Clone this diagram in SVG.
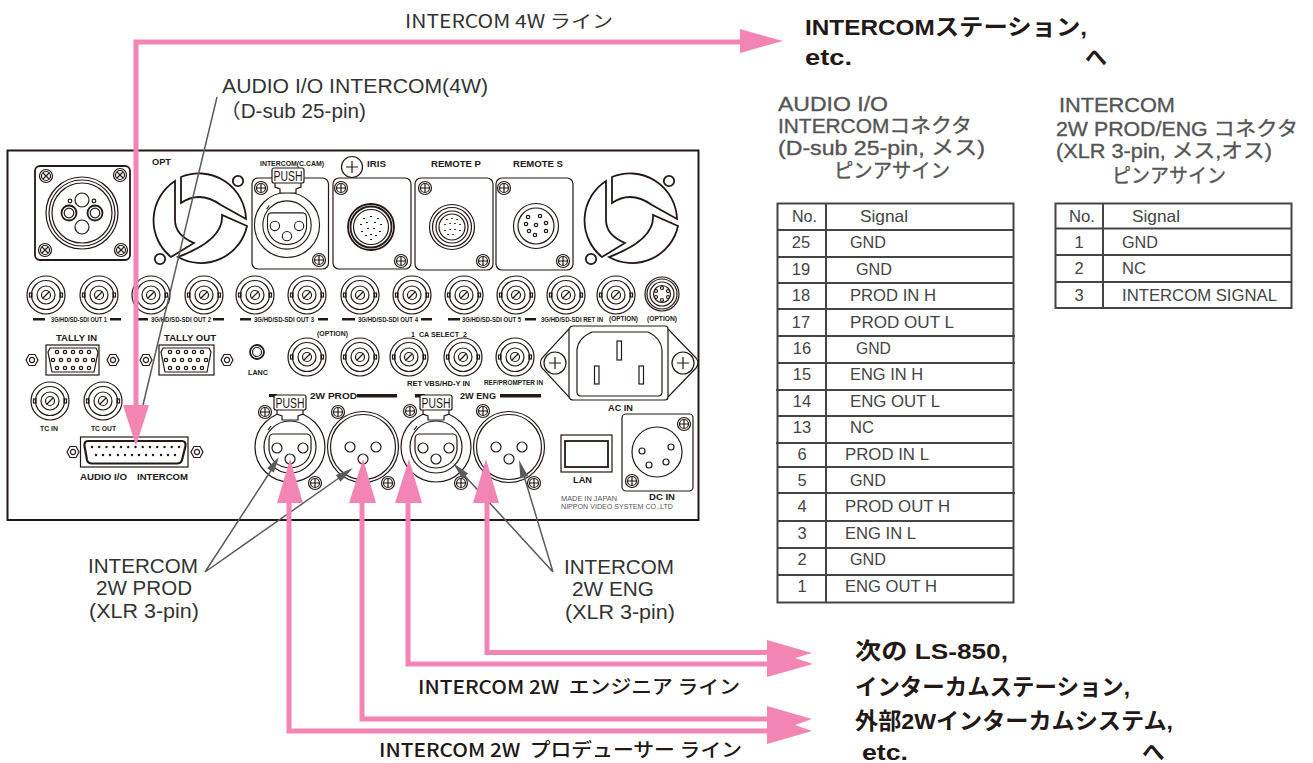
<svg xmlns="http://www.w3.org/2000/svg" width="1313" height="763" viewBox="0 0 1313 763">
<style>
.l{fill:none;stroke:#231815;stroke-width:1.2}
.t{stroke:#231815;stroke-width:1.8;fill:none}
.w{fill:#fff;stroke:#231815;stroke-width:1.2}
.k{fill:#231815;stroke:none}
.tiny{font-family:"Liberation Sans",Arial,sans-serif;font-weight:700;fill:#231815}
.j{font-family:"Liberation Sans","Noto Sans CJK JP",sans-serif;fill:#333}
.jr{font-family:"Noto Sans CJK JP","Noto Sans",sans-serif;fill:#333;font-weight:400}
.jb{font-family:"Liberation Sans","Noto Sans CJK JP",sans-serif;fill:#231815;font-weight:700}
.jm{font-family:"Noto Sans CJK JP","Noto Sans",sans-serif;fill:#231815;font-weight:500}
.h{font-family:"Liberation Sans","Noto Sans CJK JP",sans-serif;fill:#555;stroke:#555;stroke-width:.35px;font-weight:400;font-size:20px}
.c{font-family:"Liberation Sans","Noto Sans CJK JP",sans-serif;fill:#444;font-size:16.500px}
.m{text-anchor:middle}
.pk{fill:none;stroke:#F385B5;stroke-width:5}
.pa{fill:#F385B5;stroke:none}
.ld{fill:none;stroke:#5a5a5a;stroke-width:1.5}
.ah{fill:#5a5a5a}
.tb{fill:none;stroke:#444;stroke-width:2}
</style>
<defs>
<g id="bnc">
<circle r="19" class="l"/><circle r="14.500" class="l"/><circle r="9" class="l"/><circle r="4.500" class="l"/>
<path d="M-3.500 3.500L3.500-3.500" class="l"/>
<rect x="-16.500" y="-2" width="2.500" height="4" class="l"/><rect x="14" y="-2" width="2.500" height="4" class="l"/>
</g>
<g id="screw"><circle r="6.500" class="w"/><circle r="4.500" class="l"/><path d="M-4 0H4M0-4V4" class="l"/></g>
<g id="xscrew"><circle r="6.500" class="w"/><circle r="4.500" class="l"/><path d="M-3-3L3 3M-3 3L3-3" class="l"/></g>
<g id="hex"><path d="M-6 0L-3-5.500H3L6 0L3 5.500H-3Z" class="l"/><circle r="2.600" class="l"/></g>
<g id="fan">
<path d="M175 181A47 47 0 0 0 171 257L194 243Q175 235 175 220Z" class="t"/>
<path d="M181 177A47 47 0 0 1 246 219L221 205Q200 190 181 203Z" class="t"/>
<path d="M247 226L222 215Q224 240 178 257A47 47 0 0 0 247 226Z" class="t"/>
<circle cx="238" cy="181" r="5.200" class="t"/><circle cx="160" cy="259" r="5.200" class="t"/>
</g>
<g id="push"><path d="M-13 6V12L-8 14V18H8V14L13 12V6" class="w"/><rect x="-16" y="-7" width="32" height="15" rx="2" class="w"/><text y="6" class="m" font-family="Liberation Sans,sans-serif" font-size="14" fill="#231815" textLength="29" lengthAdjust="spacingAndGlyphs">PUSH</text></g>
<g id="xf"><circle r="35" class="w" stroke-width="1.600"/><circle r="26" class="l"/><path d="M-21-7Q-21-13-17-13H17Q21-13 21-7V3Q18 20 0 21Q-18 20-21 3Z" class="l" stroke-width="1.600"/><circle cx="-13" cy="1" r="5" class="l"/><circle cx="13" cy="1" r="5" class="l"/><circle cy="12" r="5" class="l"/><path d="M-22-17L-19-21" class="l"/></g>
<g id="xm"><circle r="35.500" class="w" stroke-width="2.400"/><circle r="32.500" class="l"/><circle cx="-13" r="5" class="l"/><circle cx="13" r="5" class="l"/><circle cy="12" r="5" class="l"/></g>
<g id="vr"><circle cx="-16" cy="-8" r="1.700" class="l"/><circle cx="-8" cy="-8" r="1.700" class="l"/><circle cy="-8" r="1.700" class="l"/><circle cx="8" cy="-8" r="1.700" class="l"/><circle cx="16" cy="-8" r="1.700" class="l"/></g>
<g id="vga"><path d="M-23-12H23L25-8L21 12H-21L-25-8Z" class="l"/>
<use href="#vr" y="0"/><use href="#vr" y="16"/><use href="#vr" x="-4" y="8"/><circle cx="20" cy="0" r="1.700" class="l"/></g>
</defs>

<g id="panel">
<rect x="7.500" y="150.500" width="691" height="369.500" fill="#fff" stroke="#231815" stroke-width="2"/>
</g>

<g id="opt-connector">
<rect x="35" y="166" width="95" height="94" rx="5" class="t"/>
<circle cx="82" cy="213" r="36" class="l"/><circle cx="82" cy="213" r="33" class="l"/><circle cx="82" cy="213" r="30" class="l"/>
<circle cx="82" cy="200" r="7" class="l"/><circle cx="82" cy="227" r="7" class="l"/>
<circle cx="69" cy="213" r="7.500" class="t"/><circle cx="95" cy="213" r="7.500" class="t"/><circle cx="69" cy="213" r="4.800" class="l"/><circle cx="95" cy="213" r="4.800" class="l"/>
<circle cx="70" cy="201" r="1.800" class="l"/><circle cx="94" cy="201" r="1.800" class="l"/>
<use href="#xscrew" x="46" y="176"/><use href="#xscrew" x="120" y="175"/><use href="#xscrew" x="45" y="250"/><use href="#xscrew" x="121" y="250"/>
<text x="152" y="165" class="tiny" font-size="9" textLength="19" lengthAdjust="spacingAndGlyphs">OPT</text>
</g>
<g id="fan-left"><use href="#fan"/></g>
<g id="fan-right"><use href="#fan" x="431"/></g>

<g id="intercom-ccam">
<text x="260" y="166" class="tiny" font-size="8" textLength="64" lengthAdjust="spacingAndGlyphs">INTERCOM(C.CAM)</text>
<rect x="252" y="178" width="76.500" height="91" rx="6" class="l" stroke-width="1.600"/>
<use href="#xf" transform="translate(287 225) scale(.93)"/><use href="#push" x="288" y="175"/>
<use href="#screw" x="261" y="188"/><use href="#screw" x="319" y="260"/>
</g>
<g id="iris">
<circle cx="352" cy="167" r="10.500" class="l" stroke-width="1.600"/><path d="M346 167H358M352 161V173" class="l"/>
<text x="367" y="167" class="tiny" font-size="9" textLength="19" lengthAdjust="spacingAndGlyphs">IRIS</text>
<rect x="333" y="178" width="78" height="91" rx="6" class="l" stroke-width="1.600"/>
<circle cx="371" cy="227" r="23" class="t"/><circle cx="371" cy="227" r="20.500" class="t"/><circle cx="371" cy="227" r="17.500" class="l"/>
<path d="M371 216v1M364 218v1M378 218v1M361 224v1M367 222v1M375 222v1M381 224v1M362 231v1M368 228v1M374 228v1M380 231v1M366 235v1M371 234v1M376 235v1M371 239v1" stroke="#231815" stroke-width="2" fill="none"/>
<use href="#screw" x="341" y="188"/><use href="#screw" x="401" y="261"/>
</g>
<g id="remote-p">
<text x="431" y="167" class="tiny" font-size="9" textLength="50" lengthAdjust="spacingAndGlyphs">REMOTE P</text>
<rect x="415" y="178" width="78" height="92" rx="6" class="l" stroke-width="1.600"/>
<circle cx="452" cy="227" r="22.500" class="l"/><circle cx="452" cy="227" r="19.500" class="l"/><circle cx="452" cy="227" r="16" class="l"/><circle cx="452" cy="227" r="13" class="l"/>
<path d="M447 219v1M452 218v1M457 219v1M445 224v1M450 223v1M455 223v1M460 224v1M445 230v1M450 229v1M455 229v1M460 230v1M448 234v1M453 234v1" stroke="#231815" stroke-width="1.600" fill="none"/>
<use href="#screw" x="425" y="188"/><use href="#screw" x="483" y="261"/>
</g>
<g id="remote-s">
<text x="513" y="167" class="tiny" font-size="9" textLength="50" lengthAdjust="spacingAndGlyphs">REMOTE S</text>
<rect x="496" y="178" width="77" height="92" rx="6" class="l" stroke-width="1.600"/>
<circle cx="536" cy="226" r="22.500" class="l" stroke-width="1.600"/><circle cx="536" cy="226" r="18" class="l"/>
<g class="l"><circle cx="528" cy="217" r="1.700"/><circle cx="540" cy="216" r="1.700"/><circle cx="529" cy="231" r="1.700"/><circle cx="536" cy="225" r="1.700"/><circle cx="526" cy="224" r="1.700"/><circle cx="546" cy="223" r="1.700"/><circle cx="546" cy="231" r="1.700"/><circle cx="535" cy="235" r="1.700"/></g>
<use href="#screw" x="504" y="188"/><use href="#screw" x="563" y="261"/>
</g>

<g id="sdi-row">
<use href="#bnc" x="46" y="295"/><use href="#bnc" x="99" y="295"/><use href="#bnc" x="151" y="295"/><use href="#bnc" x="204" y="295"/><use href="#bnc" x="255" y="295"/><use href="#bnc" x="307" y="295"/><use href="#bnc" x="360" y="295"/><use href="#bnc" x="412" y="295"/><use href="#bnc" x="464" y="295"/><use href="#bnc" x="516" y="295"/><use href="#bnc" x="566" y="295"/><use href="#bnc" x="616" y="295"/>
<circle cx="662" cy="294" r="17" class="l"/><circle cx="662" cy="294" r="15" class="l"/><circle cx="662" cy="294" r="12" class="l"/><circle cx="662" cy="294" r="8.500" class="l"/>
<circle cx="662" cy="288" r="1.500" class="l"/><circle cx="656" cy="291" r="1.500" class="l"/><circle cx="668" cy="291" r="1.500" class="l"/><circle cx="656" cy="297" r="1.500" class="l"/><circle cx="668" cy="297" r="1.500" class="l"/><circle cx="662" cy="300" r="1.500" class="l"/>
<g class="k"><rect x="33" y="318" width="12" height="2.500"/><rect x="110" y="318" width="11" height="2.500"/><rect x="138" y="318" width="10" height="2.500"/><rect x="213" y="318" width="11" height="2.500"/><rect x="240" y="318" width="11" height="2.500"/><rect x="318" y="318" width="10" height="2.500"/><rect x="342" y="318" width="13" height="2.500"/><rect x="421" y="318" width="11" height="2.500"/><rect x="448" y="318" width="12" height="2.500"/><rect x="525" y="318" width="11" height="2.500"/></g>
<g class="tiny" font-size="7"><text x="51" y="322" textLength="56" lengthAdjust="spacingAndGlyphs">3G/HD/SD-SDI OUT 1</text><text x="151" y="322" textLength="60" lengthAdjust="spacingAndGlyphs">3G/HD/SD-SDI OUT 2</text><text x="254" y="322" textLength="60" lengthAdjust="spacingAndGlyphs">3G/HD/SD-SDI OUT 3</text><text x="358" y="322" textLength="60" lengthAdjust="spacingAndGlyphs">3G/HD/SD-SDI OUT 4</text><text x="462" y="322" textLength="59" lengthAdjust="spacingAndGlyphs">3G/HD/SD-SDI OUT 5</text><text x="541" y="322" textLength="62" lengthAdjust="spacingAndGlyphs">3G/HD/SD-SDI RET IN</text><text x="609" y="321" textLength="29" lengthAdjust="spacingAndGlyphs">(OPTION)</text><text x="647" y="321" textLength="30" lengthAdjust="spacingAndGlyphs">(OPTION)</text></g>
</g>

<g id="tally-in">
<text x="56" y="341" class="tiny" font-size="8.500" textLength="41" lengthAdjust="spacingAndGlyphs">TALLY IN</text>
<rect x="46" y="345" width="53" height="30" class="l"/><use href="#vga" x="73" y="360"/>
<use href="#hex" x="32" y="360"/><use href="#hex" x="113" y="360"/>
</g>
<g id="tally-out">
<text x="164" y="341" class="tiny" font-size="8.500" textLength="52" lengthAdjust="spacingAndGlyphs">TALLY OUT</text>
<rect x="159" y="345" width="55" height="30" class="l"/><use href="#vga" x="186" y="360"/>
<use href="#hex" x="146" y="360"/><use href="#hex" x="227" y="360"/>
</g>
<g id="lanc">
<circle cx="257" cy="352" r="7" class="t"/><circle cx="257" cy="352" r="4.500" class="l"/>
<text x="248" y="375" class="tiny" font-size="7.500" textLength="20" lengthAdjust="spacingAndGlyphs">LANC</text>
</g>
<g id="middle-bnc">
<text x="317" y="336" class="tiny" font-size="7.500" textLength="31" lengthAdjust="spacingAndGlyphs">(OPTION)</text>
<use href="#bnc" x="307" y="357"/><use href="#bnc" x="360" y="357"/><use href="#bnc" x="409" y="357"/><use href="#bnc" x="463" y="357"/><use href="#bnc" x="515" y="357"/>
<text x="411" y="337" class="tiny" font-size="8" textLength="56" lengthAdjust="spacingAndGlyphs" xml:space="preserve">1  CA SELECT  2</text>
<text x="407" y="386" class="tiny" font-size="8" textLength="63" lengthAdjust="spacingAndGlyphs">RET VBS/HD-Y IN</text>
<text x="484" y="385" class="tiny" font-size="8" textLength="59" lengthAdjust="spacingAndGlyphs">REF/PROMPTER IN</text>
</g>
<g id="ac-in">
<path d="M569 329Q570 326 573 326H665Q668 326 668 329L696 358Q700 363 696 368L668 397Q668 400 665 400H573Q570 400 569 397L542 368Q539 363 542 358Z" class="l" stroke-width="1.600"/>
<path d="M569 329V397M668 329V397" class="l"/>
<path d="M577 392V350Q578 338 592 332H648Q661 338 662 350V392Q662 396 658 396H581Q577 396 577 392Z" class="l" stroke-width="1.600"/>
<circle cx="555" cy="363" r="11" class="l" stroke-width="1.600"/><path d="M549 363H561M555 357V369" class="l"/>
<circle cx="683" cy="363" r="11" class="l" stroke-width="1.600"/><path d="M677 363H689M683 357V369" class="l"/>
<rect x="617" y="341" width="4.500" height="19" class="l"/><rect x="594.500" y="366" width="4.500" height="18" class="l"/><rect x="639" y="366" width="4.500" height="18" class="l"/>
<text x="608" y="411" class="tiny" font-size="8.500" textLength="25" lengthAdjust="spacingAndGlyphs">AC IN</text>
</g>
<g id="tc">
<use href="#bnc" x="50" y="401"/><use href="#bnc" x="103" y="401"/>
<text x="40" y="431" class="tiny" font-size="7.500" textLength="18" lengthAdjust="spacingAndGlyphs">TC IN</text>
<text x="91" y="431" class="tiny" font-size="7.500" textLength="25" lengthAdjust="spacingAndGlyphs">TC OUT</text>
</g>
<g id="audio-io">
<rect x="80.500" y="437" width="107.500" height="30" class="l"/>
<path d="M88 441H182Q186 441 185.500 446L182 460Q181 463.500 177 463.500H92Q88 463.500 87 460L84.500 446Q84 441 88 441Z" fill="none" stroke="#231815" stroke-width="2.200"/>
<g fill="none" stroke="#231815" stroke-width="2.400" stroke-linecap="round">
<path d="M92 447h.01M99.200 447h.01M106.500 447h.01M113.700 447h.01M121 447h.01M128.200 447h.01M135.500 447h.01M142.700 447h.01M150 447h.01M157.200 447h.01M164.500 447h.01M171.700 447h.01M179 447h.01"/>
<path d="M96 455h.01M103 455h.01M110 455h.01M118 455h.01M125 455h.01M132 455h.01M139 455h.01M146 455h.01M153 455h.01M161 455h.01M168 455h.01M175 455h.01"/>
</g>
<use href="#hex" x="73" y="452"/><use href="#hex" x="197" y="452"/>
<text x="80" y="480" class="tiny" font-size="8.500" textLength="47" lengthAdjust="spacingAndGlyphs">AUDIO I/O</text>
<text x="137" y="480" class="tiny" font-size="8.500" textLength="51" lengthAdjust="spacingAndGlyphs">INTERCOM</text>
</g>
<g id="prod-connectors">
<rect x="269" y="394" width="8" height="3" class="k"/><rect x="357" y="394" width="40" height="3.500" class="k"/>
<text x="310" y="399" class="tiny" font-size="8.500" textLength="47" lengthAdjust="spacingAndGlyphs">2W PROD</text>
<use href="#screw" x="265" y="412"/><use href="#xf" x="290" y="447"/><use href="#push" x="290" y="402"/><use href="#screw" x="315" y="483"/>
<use href="#screw" x="338" y="412"/><use href="#xm" x="363" y="447"/><use href="#screw" x="388" y="483"/>
</g>
<g id="eng-connectors">
<rect x="415" y="394" width="10" height="3.500" class="k"/><rect x="500" y="394" width="41" height="3.500" class="k"/>
<text x="460" y="399" class="tiny" font-size="8.500" textLength="36" lengthAdjust="spacingAndGlyphs">2W ENG</text>
<use href="#screw" x="410" y="411"/><use href="#xf" x="436" y="447"/><use href="#push" x="436" y="402"/><use href="#screw" x="461" y="483"/>
<use href="#screw" x="483" y="411"/><use href="#xm" x="509" y="447"/><use href="#screw" x="534" y="483"/>
</g>
<g id="lan">
<rect x="561" y="435" width="51" height="37" class="l"/><rect x="565" y="441" width="43" height="26" class="t"/>
<text x="573" y="483" class="tiny" font-size="8.500" textLength="19" lengthAdjust="spacingAndGlyphs">LAN</text>
</g>
<g id="dc-in">
<rect x="622" y="414" width="71" height="77" rx="4" class="l" stroke-width="1.600"/>
<circle cx="657" cy="452" r="25" class="l" stroke-width="1.600"/>
<circle cx="642" cy="451" r="3" class="l"/><circle cx="671" cy="447" r="3" class="l"/><circle cx="649" cy="465" r="3" class="l"/><circle cx="666" cy="462" r="3" class="l"/>
<use href="#screw" x="684" y="424"/><use href="#screw" x="632" y="481"/>
<text x="649" y="500" class="tiny" font-size="8.500" textLength="26" lengthAdjust="spacingAndGlyphs">DC IN</text>
</g>
<g id="maker" font-family="Liberation Sans,sans-serif" font-size="7" fill="#555">
<text x="561" y="500.500" textLength="56" lengthAdjust="spacingAndGlyphs">MADE IN JAPAN</text>
<text x="561" y="508.500" textLength="112" lengthAdjust="spacingAndGlyphs">NIPPON VIDEO SYSTEM CO.,LTD</text>
</g>

<g id="connectors">
<path d="M217 97L143 405" class="ld"/>
<path d="M205 572L272 469M205 572L339 478M553 572L464 475M553 572L524 476" class="ld"/>
<path d="M279 457L273.800 472.600L267 468.200ZM353 468L340.500 481.700L335.900 475.100ZM453 463L468.100 473.600L462.300 479ZM519 460L528 476L520.400 478.400Z" class="ah"/>
<path d="M743 42H136V410" class="pk"/>
<path d="M783 41L740 29V53Z" class="pa"/>
<path d="M123 405H149L136 446Z" class="pa"/>
<path d="M289 500V731H770" class="pk"/>
<path d="M362 500V719H770" class="pk"/>
<path d="M408 500V664H770" class="pk"/>
<path d="M487 500V652.500H770" class="pk"/>
<path d="M277 503H303L290 459ZM349 503H376L363 459ZM395 503H422L409 459ZM473 503H499L486 459Z" class="pa"/>
<path d="M767 640L812 653L795 658L813 664L767 677ZM767 706L812 719L795 725L812 731L767 744Z" class="pa"/>
</g>

<g id="top-labels">
<text x="405" y="28" class="jr" font-size="18" textLength="208" lengthAdjust="spacingAndGlyphs">INTERCOM 4W ライン</text>
<text x="805" y="35" class="jb" font-size="22.500" textLength="282" lengthAdjust="spacingAndGlyphs">INTERCOMステーション,</text>
<text x="805" y="65" class="jb" font-size="22.500" textLength="47" lengthAdjust="spacingAndGlyphs">etc.</text>
<text x="1085" y="65" class="jb" font-size="22">へ</text>
<text x="222" y="93" class="j" font-size="20" textLength="266" lengthAdjust="spacingAndGlyphs">AUDIO I/O INTERCOM(4W)</text>
<text x="220" y="118" class="j" font-size="20" textLength="146" lengthAdjust="spacingAndGlyphs">（D-sub 25-pin)</text>
</g>
<g id="label-prod" class="j" font-size="20">
<text x="88" y="573" textLength="110" lengthAdjust="spacingAndGlyphs">INTERCOM</text><text x="96" y="595" textLength="96" lengthAdjust="spacingAndGlyphs">2W PROD</text><text x="89" y="618" textLength="110" lengthAdjust="spacingAndGlyphs">(XLR 3-pin)</text>
</g>
<g id="label-eng" class="j" font-size="20">
<text x="564" y="574" textLength="110" lengthAdjust="spacingAndGlyphs">INTERCOM</text><text x="572" y="596" textLength="82" lengthAdjust="spacingAndGlyphs">2W ENG</text><text x="565" y="619" textLength="110" lengthAdjust="spacingAndGlyphs">(XLR 3-pin)</text>
</g>
<g id="line-labels" class="jm" font-size="19">
<text x="418" y="694" textLength="322" lengthAdjust="spacingAndGlyphs" xml:space="preserve">INTERCOM 2W  エンジニア ライン</text>
<text x="379" y="757" textLength="363" lengthAdjust="spacingAndGlyphs" xml:space="preserve">INTERCOM 2W  プロデューサー ライン</text>
</g>
<g id="dest-labels" class="jb" font-size="22.500">
<text x="855" y="659" textLength="153" lengthAdjust="spacingAndGlyphs">次の LS-850,</text>
<text x="855" y="695" textLength="275" lengthAdjust="spacingAndGlyphs">インターカムステーション,</text>
<text x="855" y="729" textLength="318" lengthAdjust="spacingAndGlyphs">外部2Wインターカムシステム,</text>
<text x="862" y="760" textLength="46" lengthAdjust="spacingAndGlyphs">etc.</text>
<text x="1142" y="760">へ</text>
</g>

<g id="table-audio">
<text x="778" y="111" class="h" textLength="110" lengthAdjust="spacingAndGlyphs">AUDIO I/O</text>
<text x="778" y="133" class="h" textLength="194" lengthAdjust="spacingAndGlyphs">INTERCOMコネクタ</text>
<text x="778" y="155" class="h" textLength="207" lengthAdjust="spacingAndGlyphs">(D-sub 25-pin, メス)</text>
<text x="834" y="178" class="h" textLength="116" lengthAdjust="spacingAndGlyphs">ピンアサイン</text>
<path class="tb" d="M777.500 203.500H1013.500V602.500H777.500ZM826 203.500V602.500M777 230H1013M777 257H1013M777 283H1013M777 309H1013M777 336H1015M777 363H1015M776 390H1012M777 416H1013M776 443H1012M777 467H1013M777 493H1015M777 521H1013M777 548H1013M777 575H1013"/>
<g class="c">
<text x="792" y="222" textLength="25" lengthAdjust="spacingAndGlyphs">No.</text><text x="860" y="222" textLength="48" lengthAdjust="spacingAndGlyphs">Signal</text>
<g class="m"><text x="801" y="248">25</text><text x="801" y="275">19</text><text x="801" y="301">18</text><text x="801" y="328">17</text><text x="802" y="354">16</text><text x="802" y="380">15</text><text x="802" y="407">14</text><text x="802" y="433">13</text><text x="802" y="460">6</text><text x="802" y="486">5</text><text x="802" y="512">4</text><text x="802" y="539">3</text><text x="802" y="565">2</text><text x="802" y="592">1</text></g>
<text x="850" y="248" textLength="36" lengthAdjust="spacingAndGlyphs">GND</text><text x="856" y="275" textLength="36" lengthAdjust="spacingAndGlyphs">GND</text><text x="850" y="301" textLength="86" lengthAdjust="spacingAndGlyphs">PROD IN H</text><text x="850" y="328" textLength="104" lengthAdjust="spacingAndGlyphs">PROD OUT L</text><text x="856" y="354" textLength="35" lengthAdjust="spacingAndGlyphs">GND</text><text x="850" y="380" textLength="73" lengthAdjust="spacingAndGlyphs">ENG IN H</text><text x="850" y="407" textLength="90" lengthAdjust="spacingAndGlyphs">ENG OUT L</text><text x="850" y="433" textLength="24" lengthAdjust="spacingAndGlyphs">NC</text><text x="845" y="460" textLength="84" lengthAdjust="spacingAndGlyphs">PROD IN L</text><text x="850" y="486" textLength="36" lengthAdjust="spacingAndGlyphs">GND</text><text x="845" y="512" textLength="105" lengthAdjust="spacingAndGlyphs">PROD OUT H</text><text x="845" y="539" textLength="71" lengthAdjust="spacingAndGlyphs">ENG IN L</text><text x="850" y="565" textLength="36" lengthAdjust="spacingAndGlyphs">GND</text><text x="845" y="592" textLength="92" lengthAdjust="spacingAndGlyphs">ENG OUT H</text>
</g>
</g>
<g id="table-intercom">
<text x="1059" y="112" class="h" textLength="116" lengthAdjust="spacingAndGlyphs">INTERCOM</text>
<text x="1056" y="136" class="h" textLength="242" lengthAdjust="spacingAndGlyphs">2W PROD/ENG コネクタ</text>
<text x="1056" y="158" class="h" textLength="216" lengthAdjust="spacingAndGlyphs">(XLR 3-pin, メス,オス)</text>
<text x="1112" y="183" class="h" textLength="114" lengthAdjust="spacingAndGlyphs">ピンアサイン</text>
<path class="tb" d="M1055.500 203.500H1291.500V308H1055.500ZM1103 203.500V308M1055 228.500H1291M1055 255H1291M1055 282H1291"/>
<g class="c">
<text x="1069" y="222" textLength="26" lengthAdjust="spacingAndGlyphs">No.</text><text x="1132" y="222" textLength="48" lengthAdjust="spacingAndGlyphs">Signal</text>
<g class="m"><text x="1079" y="248">1</text><text x="1079" y="274">2</text><text x="1079" y="301">3</text></g>
<text x="1122" y="248" textLength="36" lengthAdjust="spacingAndGlyphs">GND</text><text x="1122" y="274" textLength="24" lengthAdjust="spacingAndGlyphs">NC</text><text x="1122" y="301" textLength="155" lengthAdjust="spacingAndGlyphs">INTERCOM SIGNAL</text>
</g>
</g>
</svg>
